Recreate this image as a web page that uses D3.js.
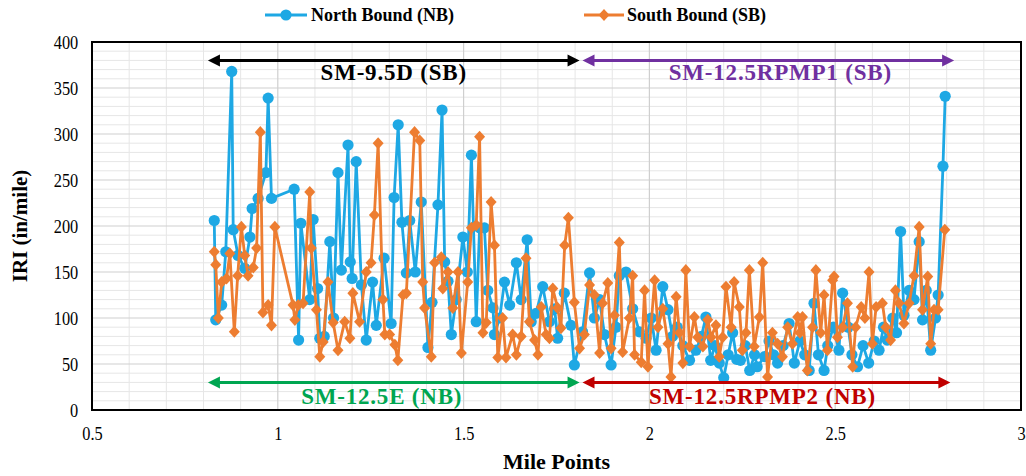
<!DOCTYPE html>
<html>
<head>
<meta charset="utf-8">
<script src="https://cdn.jsdelivr.net/npm/d3@7"></script>
<style>
  html, body { margin: 0; padding: 0; background: #fff; }
  svg text { font-family: "Liberation Serif", "Times New Roman", serif; }
</style>
</head>
<body>
<svg id="chart" width="1026" height="476"></svg>
<script>
// IRI measurements along the corridor, mile point vs. roughness
const nbMiles = [0.829,0.833,0.849,0.86,0.876,0.88,0.893,0.911,0.925,0.931,0.947,0.968,0.974,0.983,1.044,1.056,1.062,1.086,1.095,1.107,1.113,1.125,1.14,1.15,1.162,1.171,1.189,1.195,1.2,1.211,1.225,1.238,1.255,1.265,1.286,1.305,1.313,1.324,1.334,1.346,1.355,1.37,1.386,1.404,1.415,1.431,1.442,1.449,1.458,1.467,1.48,1.498,1.51,1.521,1.534,1.543,1.556,1.565,1.579,1.583,1.597,1.61,1.624,1.642,1.655,1.671,1.682,1.695,1.713,1.731,1.745,1.753,1.771,1.789,1.798,1.82,1.839,1.852,1.866,1.879,1.897,1.91,1.919,1.937,1.955,1.973,1.991,2.005,2.018,2.036,2.05,2.062,2.075,2.09,2.108,2.125,2.14,2.152,2.165,2.176,2.188,2.2,2.212,2.224,2.235,2.245,2.258,2.27,2.283,2.29,2.31,2.322,2.334,2.345,2.36,2.376,2.39,2.405,2.418,2.43,2.443,2.455,2.47,2.48,2.495,2.51,2.52,2.535,2.545,2.56,2.575,2.59,2.605,2.618,2.63,2.64,2.655,2.665,2.676,2.685,2.699,2.712,2.726,2.735,2.745,2.757,2.77,2.777,2.79,2.796];
const nbIRI = [206,98,114,172,368,196,168,154,188,219,230,258,339,230,240,76,203,120,207,132,78,80,183,100,258,152,288,161,143,270,136,76,139,92,165,94,231,310,204,149,206,150,226,68,117,223,326,161,140,82,120,188,150,277,96,198,198,130,111,82,100,139,114,160,120,185,96,105,134,96,110,78,127,92,49,85,149,100,120,82,49,90,146,150,110,85,78,100,65,134,109,80,90,70,54,65,80,101,54,70,51,35,60,84,55,54,70,43,60,47,58,75,60,51,70,94,51,75,60,43,116,60,43,70,90,65,127,90,60,47,70,51,75,65,90,76,100,84,194,103,130,120,183,98,130,65,100,125,265,341];

const sbMiles = [0.829,0.833,0.84,0.849,0.862,0.871,0.883,0.892,0.902,0.911,0.92,0.934,0.943,0.953,0.96,0.974,0.983,0.992,1.041,1.046,1.055,1.068,1.086,1.09,1.104,1.113,1.122,1.135,1.149,1.162,1.18,1.194,1.202,1.22,1.238,1.251,1.26,1.27,1.283,1.288,1.301,1.315,1.323,1.337,1.346,1.368,1.382,1.39,1.395,1.413,1.422,1.44,1.444,1.458,1.471,1.485,1.494,1.511,1.521,1.534,1.543,1.552,1.561,1.574,1.583,1.592,1.605,1.614,1.632,1.642,1.655,1.668,1.677,1.691,1.7,1.709,1.722,1.731,1.74,1.753,1.762,1.772,1.782,1.798,1.812,1.825,1.839,1.852,1.866,1.874,1.888,1.897,1.906,1.919,1.928,1.946,1.955,1.96,1.978,1.987,1.996,2.014,2.023,2.036,2.05,2.058,2.072,2.081,2.09,2.098,2.108,2.121,2.13,2.144,2.157,2.166,2.179,2.188,2.197,2.206,2.22,2.228,2.242,2.25,2.26,2.269,2.282,2.296,2.305,2.318,2.331,2.345,2.358,2.372,2.385,2.399,2.405,2.412,2.425,2.439,2.448,2.461,2.47,2.479,2.493,2.497,2.506,2.52,2.533,2.547,2.555,2.57,2.58,2.591,2.6,2.61,2.627,2.636,2.649,2.662,2.672,2.685,2.699,2.712,2.726,2.735,2.749,2.757,2.766,2.777,2.795];
const sbIRI = [172,158,100,139,143,170,85,146,199,168,146,155,176,302,106,114,92,199,114,98,114,116,237,176,109,58,74,139,95,65,96,78,127,96,150,160,212,290,120,82,82,71,54,125,127,302,293,139,111,58,160,166,132,150,111,150,62,139,198,201,297,84,95,226,179,57,100,57,82,60,80,165,96,76,60,112,82,78,132,111,89,179,209,117,67,82,136,125,62,116,138,67,103,182,63,100,146,60,52,130,47,141,90,110,72,36,123,84,51,152,69,101,79,69,98,79,92,58,79,134,90,139,112,65,84,152,69,101,160,36,84,72,58,90,72,101,84,101,43,90,152,84,125,65,141,145,79,90,116,47,90,112,100,150,72,112,116,90,76,130,116,94,116,146,199,109,145,72,109,109,196];

const xTicks = [0.5, 1, 1.5, 2, 2.5, 3];
const yTicks = [0, 50, 100, 150, 200, 250, 300, 350, 400];

// Section spans (mile points) shown as double-headed arrows
const sectionNames = ["SM-9.5D (SB)", "SM-12.5RPMP1 (SB)", "SM-12.5E (NB)", "SM-12.5RPMP2 (NB)"];
const sectionStart = [0.812, 1.82, 0.812, 1.82];
const sectionEnd = [1.812, 2.82, 1.812, 2.81];
const sectionLevel = [380, 380, 30, 30];
const sectionColors = ["#000000", "#7030A0", "#00A651", "#C00000"];

const svg = d3.select("#chart");
const margin = { left: 92, right: 5, top: 42, bottom: 66 };
const W = 1026, H = 476;

const x = d3.scaleLinear().domain([0.5, 3]).range([margin.left, W - margin.right]);
const y = d3.scaleLinear().domain([0, 400]).range([H - margin.bottom, margin.top]);

const blue = "#1EA8E4", orange = "#ED7D31";

// grid: minor every 0.1 / 10, major every 0.5 / 50
const grid = svg.append("g");
grid.selectAll("line.vmin").data(d3.range(6, 30).map(d => d / 10).filter(d => Math.abs(d * 2 - Math.round(d * 2)) > 1e-6))
  .join("line").attr("x1", d => x(d)).attr("x2", d => x(d))
  .attr("y1", y(400)).attr("y2", y(0)).attr("stroke", "#e6e6e6").attr("stroke-width", 1);
grid.selectAll("line.hmin").data(d3.range(10, 400, 10).filter(d => d % 50 !== 0))
  .join("line").attr("x1", x(0.5)).attr("x2", x(3))
  .attr("y1", d => y(d)).attr("y2", d => y(d)).attr("stroke", "#e6e6e6").attr("stroke-width", 1);
svg.append("g").selectAll("line").data(xTicks.slice(1, -1))
  .join("line").attr("x1", d => x(d)).attr("x2", d => x(d))
  .attr("y1", y(400)).attr("y2", y(0)).attr("stroke", "#cfcfcf").attr("stroke-width", 1.2);
svg.append("g").selectAll("line").data(yTicks.slice(1, -1))
  .join("line").attr("x1", x(0.5)).attr("x2", x(3))
  .attr("y1", d => y(d)).attr("y2", d => y(d)).attr("stroke", "#cfcfcf").attr("stroke-width", 1.2);

// axes (tick labels drawn tall and narrow)
const xAxis = svg.append("g").attr("transform", `translate(0,${y(0)})`)
  .call(d3.axisBottom(x).tickValues(xTicks).tickSize(0).tickPadding(17).tickFormat(d3.format("")));
xAxis.select(".domain").remove();
xAxis.selectAll(".tick text").attr("font-size", 19).attr("fill", "#000")
  .attr("transform", "scale(0.86,1)");

const yAxis = svg.append("g").attr("transform", `translate(${x(0.5)},0)`)
  .call(d3.axisLeft(y).tickValues(yTicks).tickSize(0).tickPadding(16));
yAxis.select(".domain").remove();
yAxis.selectAll(".tick text").attr("font-size", 19).attr("fill", "#000")
  .attr("transform", "scale(0.86,1)");

// plot frame
svg.append("rect").attr("x", x(0.5)).attr("y", y(400))
  .attr("width", x(3) - x(0.5)).attr("height", y(0) - y(400))
  .attr("fill", "none").attr("stroke", "#000").attr("stroke-width", 2);

// series
const nb = nbMiles.map((m, i) => ({ m, v: nbIRI[i] }));
const sb = sbMiles.map((m, i) => ({ m, v: sbIRI[i] }));
const line = d3.line().x(d => x(d.m)).y(d => y(d.v));

svg.append("path").datum(nb).attr("d", line).attr("fill", "none")
  .attr("stroke", blue).attr("stroke-width", 2.8).attr("stroke-linejoin", "round");
svg.append("g").selectAll("circle").data(nb).join("circle")
  .attr("cx", d => x(d.m)).attr("cy", d => y(d.v)).attr("r", 5.6).attr("fill", blue);

const diamond = (cx, cy, r) => `M${cx},${cy - r * 1.1}L${cx + r},${cy}L${cx},${cy + r * 1.1}L${cx - r},${cy}Z`;
svg.append("path").datum(sb).attr("d", line).attr("fill", "none")
  .attr("stroke", orange).attr("stroke-width", 2.8).attr("stroke-linejoin", "round");
svg.append("g").selectAll("path").data(sb).join("path")
  .attr("d", d => diamond(x(d.m), y(d.v), 5.5)).attr("fill", orange);

// section arrows and labels
const labelShift = [0, 12, -12, -4];
const arrowG = svg.append("g");
sectionNames.forEach((name, i) => {
  const x1 = x(sectionStart[i]), x2 = x(sectionEnd[i]), yy = y(sectionLevel[i]);
  const c = sectionColors[i];
  const hl = 12, hw = 6;
  arrowG.append("line").attr("x1", x1 + hl - 1).attr("x2", x2 - hl + 1)
    .attr("y1", yy).attr("y2", yy).attr("stroke", c).attr("stroke-width", 3);
  arrowG.append("path").attr("d", `M${x1},${yy}L${x1 + hl},${yy - hw}L${x1 + hl},${yy + hw}Z`).attr("fill", c);
  arrowG.append("path").attr("d", `M${x2},${yy}L${x2 - hl},${yy - hw}L${x2 - hl},${yy + hw}Z`).attr("fill", c);
  const top = sectionLevel[i] > 200;
  arrowG.append("text").attr("x", (x1 + x2) / 2 + labelShift[i]).attr("y", top ? yy + 20 : yy + 22)
    .attr("text-anchor", "middle").attr("font-size", 23).attr("font-weight", "bold")
    .attr("letter-spacing", 0.8).attr("fill", c).text(name);
});

// legend
const legend = svg.append("g").attr("font-size", 18).attr("font-weight", "bold");
const lgY = 15;
legend.append("line").attr("x1", 265).attr("x2", 307).attr("y1", lgY).attr("y2", lgY)
  .attr("stroke", blue).attr("stroke-width", 2.8);
legend.append("circle").attr("cx", 286).attr("cy", lgY).attr("r", 5.6).attr("fill", blue);
legend.append("text").attr("x", 311).attr("y", lgY + 6).text("North Bound (NB)");
legend.append("line").attr("x1", 584).attr("x2", 624).attr("y1", lgY).attr("y2", lgY)
  .attr("stroke", orange).attr("stroke-width", 2.8);
legend.append("path").attr("d", diamond(604, lgY, 5.5)).attr("fill", orange);
legend.append("text").attr("x", 627).attr("y", lgY + 6).text("South Bound (SB)");

// axis titles
svg.append("text").attr("x", (x(0.5) + x(3)) / 2).attr("y", 469).attr("text-anchor", "middle")
  .attr("font-size", 22).attr("font-weight", "bold").text("Mile Points");
svg.append("text").attr("transform", `translate(27,${(y(0) + y(400)) / 2}) rotate(-90)`)
  .attr("text-anchor", "middle").attr("font-size", 21).attr("font-weight", "bold").text("IRI (in/mile)");
</script>
</body>
</html>
